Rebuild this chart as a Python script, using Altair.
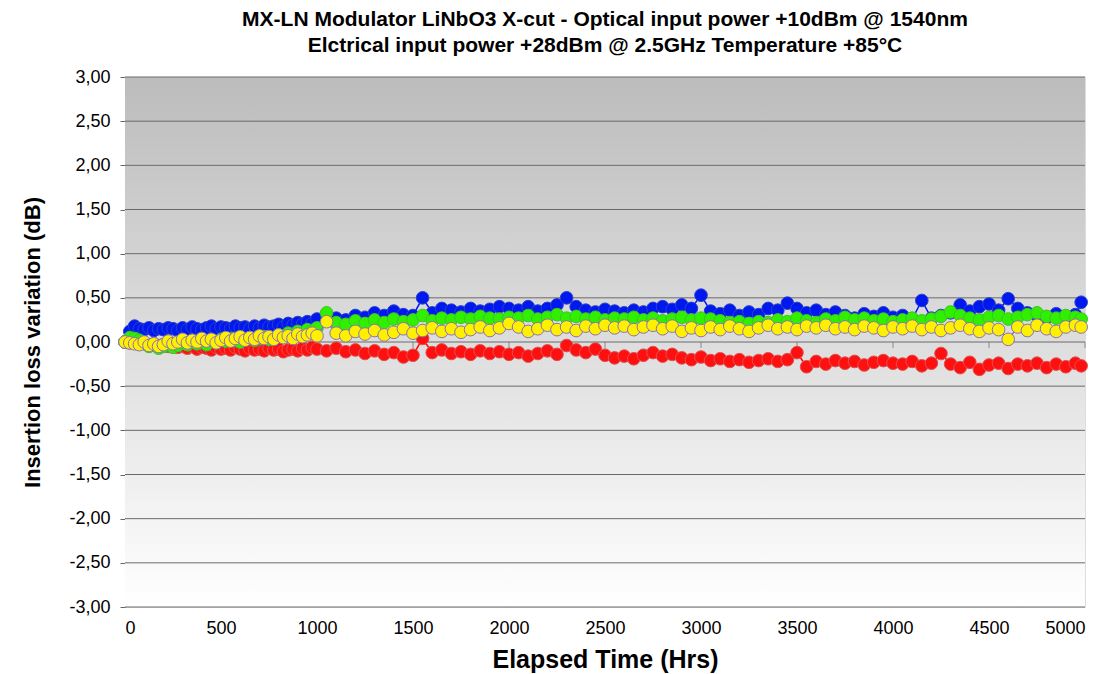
import altair as alt
import pandas as pd

hours = [0, 25, 50, 75, 100, 125, 150, 175, 200, 225, 250, 275, 300, 325, 350, 375, 400, 425, 450, 475,
         500, 525, 550, 575, 600, 625, 650, 675, 700, 725, 750, 775, 800, 825, 850, 875, 900, 925, 950, 975, 1000,
         1050, 1100, 1150, 1200, 1250, 1300, 1350, 1400, 1450, 1500, 1550, 1600, 1650, 1700, 1750, 1800, 1850, 1900, 1950, 2000,
         2050, 2100, 2150, 2200, 2250, 2300, 2350, 2400, 2450, 2500, 2550, 2600, 2650, 2700, 2750, 2800, 2850, 2900, 2950, 3000,
         3050, 3100, 3150, 3200, 3250, 3300, 3350, 3400, 3450, 3500, 3550, 3600, 3650, 3700, 3750, 3800, 3850, 3900, 3950, 4000,
         4050, 4100, 4150, 4200, 4250, 4300, 4350, 4400, 4450, 4500, 4550, 4600, 4650, 4700, 4750, 4800, 4850, 4900, 4950, 4980]

blue = [0.00, 0.12, 0.18, 0.15, 0.14, 0.16, 0.13, 0.15, 0.14, 0.16,
        0.15, 0.13, 0.16, 0.14, 0.17, 0.15, 0.14, 0.16, 0.18, 0.15,
        0.17, 0.16, 0.15, 0.18, 0.16, 0.17, 0.15, 0.18, 0.16, 0.19,
        0.17, 0.18, 0.20, 0.17, 0.21, 0.19, 0.22, 0.20, 0.23, 0.21, 0.26,
        0.30, 0.27, 0.25, 0.30, 0.28, 0.33, 0.30, 0.35, 0.31, 0.30, 0.50, 0.33, 0.38, 0.36, 0.34, 0.38, 0.35, 0.37, 0.40, 0.38,
        0.36, 0.40, 0.35, 0.38, 0.42, 0.50, 0.40, 0.36, 0.34, 0.37, 0.35, 0.33, 0.36, 0.34, 0.38, 0.40, 0.37, 0.42, 0.38, 0.53,
        0.35, 0.32, 0.36, 0.30, 0.34, 0.31, 0.38, 0.36, 0.44, 0.38, 0.33, 0.36, 0.31, 0.34, 0.30, 0.27, 0.32, 0.29, 0.33, 0.28,
        0.30, 0.26, 0.47, 0.27, 0.30, 0.33, 0.42, 0.35, 0.40, 0.43, 0.36, 0.49, 0.38, 0.33, 0.30, 0.28, 0.32, 0.29, 0.31, 0.45]

green = [0.00, 0.05, 0.04, 0.02, -0.02, -0.05, -0.03, -0.07, -0.05, -0.02,
         -0.06, -0.04, -0.01, -0.03, 0.00, -0.02, 0.01, -0.03, 0.02, 0.00,
         0.03, 0.01, 0.04, 0.02, 0.00, 0.03, 0.05, 0.02, 0.04, 0.06,
         0.03, 0.05, 0.08, 0.06, 0.10, 0.08, 0.12, 0.10, 0.14, 0.13, 0.16,
         0.33, 0.22, 0.20, 0.24, 0.21, 0.25, 0.22, 0.26, 0.23, 0.25, 0.30, 0.24, 0.27, 0.25, 0.28, 0.26, 0.29, 0.27, 0.26, 0.28,
         0.27, 0.30, 0.26, 0.28, 0.31, 0.27, 0.29, 0.26, 0.28, 0.25, 0.27, 0.26, 0.28, 0.25, 0.27, 0.24, 0.26, 0.28, 0.25, 0.27,
         0.26, 0.24, 0.22, 0.23, 0.21, 0.23, 0.22, 0.25, 0.23, 0.27, 0.24, 0.22, 0.26, 0.24, 0.28, 0.25, 0.27, 0.24, 0.26, 0.23,
         0.25, 0.27, 0.24, 0.26, 0.29, 0.34, 0.30, 0.27, 0.25, 0.28, 0.30, 0.26, 0.28, 0.31, 0.33, 0.29, 0.27, 0.30, 0.28, 0.26]

yellow = [0.00, -0.01, -0.02, -0.03, 0.00, -0.04, -0.02, -0.05, -0.03, 0.01,
          -0.02, 0.00, 0.03, -0.01, 0.02, 0.00, 0.04, 0.01, 0.03, -0.01,
          0.02, 0.05, 0.01, 0.04, 0.06, 0.02, 0.05, 0.03, 0.07, 0.04,
          0.06, 0.03, 0.08, 0.05, 0.07, 0.04, 0.09, 0.06, 0.08, 0.10, 0.07,
          0.23, 0.10, 0.07, 0.12, 0.09, 0.13, 0.08, 0.11, 0.15, 0.10, 0.13, 0.16, 0.12, 0.15, 0.11, 0.14, 0.17, 0.13, 0.16, 0.21,
          0.17, 0.12, 0.15, 0.19, 0.14, 0.17, 0.13, 0.18, 0.15, 0.19, 0.16, 0.18, 0.14, 0.17, 0.19, 0.15, 0.18, 0.12, 0.16, 0.13,
          0.17, 0.14, 0.18, 0.15, 0.12, 0.16, 0.19, 0.15, 0.17, 0.14, 0.18, 0.16, 0.19, 0.15, 0.17, 0.14, 0.18, 0.16, 0.13, 0.17,
          0.15, 0.18, 0.14, 0.17, 0.13, 0.16, 0.19, 0.15, 0.12, 0.16, 0.14, 0.03, 0.17, 0.13, 0.19, 0.15, 0.12, 0.17, 0.19, 0.17]

red = [0.00, -0.01, 0.00, -0.02, -0.01, -0.03, -0.02, -0.04, -0.03, -0.05,
       -0.04, -0.06, -0.05, -0.07, -0.05, -0.08, -0.06, -0.07, -0.09, -0.06,
       -0.08, -0.07, -0.09, -0.06, -0.08, -0.10, -0.07, -0.09, -0.08, -0.10,
       -0.07, -0.09, -0.08, -0.11, -0.09, -0.08, -0.10, -0.07, -0.09, -0.06, -0.08,
       -0.10, -0.07, -0.11, -0.09, -0.13, -0.10, -0.14, -0.12, -0.17, -0.15, 0.04, -0.12, -0.09, -0.13, -0.11, -0.14, -0.10, -0.13, -0.11, -0.14,
       -0.12, -0.16, -0.13, -0.10, -0.14, -0.04, -0.09, -0.12, -0.08, -0.15, -0.18, -0.16, -0.19, -0.15, -0.12, -0.16, -0.14, -0.18, -0.20, -0.17,
       -0.21, -0.19, -0.22, -0.20, -0.23, -0.21, -0.19, -0.22, -0.20, -0.12, -0.28, -0.22, -0.25, -0.21, -0.24, -0.22, -0.26, -0.23, -0.21, -0.24,
       -0.25, -0.22, -0.27, -0.24, -0.13, -0.25, -0.29, -0.23, -0.31, -0.26, -0.24, -0.30, -0.25, -0.27, -0.24, -0.29, -0.25, -0.28, -0.24, -0.27]

y_ticks = [-3.0, -2.5, -2.0, -1.5, -1.0, -0.5, 0.0, 0.5, 1.0, 1.5, 2.0, 2.5, 3.0]
x_ticks = [0, 500, 1000, 1500, 2000, 2500, 3000, 3500, 4000, 4500, 5000]

W, H = 960, 530
FONT = "Liberation Sans"

rows = []
for name, vals in [("red", red), ("blue", blue), ("green", green), ("yellow", yellow)]:
    for h, v in zip(hours, vals):
        rows.append({"hours": h, "value": v, "series": name})
df = pd.DataFrame(rows)

xscale = alt.Scale(domain=[0, 5000], nice=False, zero=False)
yscale = alt.Scale(domain=[-3, 3], nice=False, zero=False)

x_axis = alt.Axis(values=x_ticks, format="d", title="Elapsed Time (Hrs)", grid=False, ticks=False, domain=False,
                  labelFontSize=18, labelFont=FONT, labelColor="black", labelPadding=12,
                  titleFont=FONT, titleFontSize=25, titleFontWeight="bold", titleColor="black", titlePadding=10)
y_axis = alt.Axis(values=y_ticks, title="Insertion loss variation (dB)", grid=False, domain=False,
                  labelExpr="(datum.value < 0 ? '-' : '') + replace(format(abs(datum.value), '.2f'), '.', ',')",
                  labelFontSize=18, labelFont=FONT, labelColor="black", labelPadding=10,
                  tickSize=5, tickColor="#666666",
                  titleFont=FONT, titleFontSize=22, titleFontWeight="bold", titleColor="black", titlePadding=24)

bg = alt.Chart(pd.DataFrame({"a": [0]})).mark_rect(
    color=alt.Gradient(gradient="linear", x1=0, x2=0, y1=0, y2=1,
                       stops=[alt.GradientStop(color="#bcbcbc", offset=0),
                              alt.GradientStop(color="#ffffff", offset=1)])
).encode(x=alt.value(0), x2=alt.value(W), y=alt.value(0), y2=alt.value(H))

grid = alt.Chart(pd.DataFrame({"g": y_ticks})).mark_rule(color="#6a6a6a", strokeWidth=1).encode(
    y=alt.Y("g:Q", scale=yscale, axis=y_axis)
)

zero_ticks = alt.Chart(pd.DataFrame({"t": x_ticks})).mark_tick(
    orient="vertical", size=6, thickness=1, color="#6a6a6a", yOffset=3
).encode(x=alt.X("t:Q", scale=xscale, axis=x_axis), y=alt.datum(0))

styles = {
    "red": dict(line="#ff0000", fill="#ff1010", stroke="#e05050"),
    "blue": dict(line="#0010ff", fill="#0018f0", stroke="#2a40c8"),
    "green": dict(line="#10d000", fill="#30f000", stroke="#40c030"),
    "yellow": dict(line="#8a70b8", fill="#fff000", stroke="#8a70b8"),
}

layers = [bg, grid, zero_ticks]
for name in ["red", "blue", "green", "yellow"]:
    s = styles[name]
    layers.append(
        alt.Chart(df).transform_filter(alt.datum.series == name).mark_line(
            color=s["line"], strokeWidth=1.5,
            point=alt.OverlayMarkDef(filled=True, size=160, fill=s["fill"], stroke=s["stroke"],
                                     strokeWidth=1, opacity=1)
        ).encode(
            x=alt.X("hours:Q", scale=xscale, axis=x_axis),
            y=alt.Y("value:Q", scale=yscale, axis=y_axis),
            order=alt.Order("hours:Q"),
        )
    )

chart = alt.layer(*layers).properties(
    width=W, height=H,
    padding={"left": 13, "top": 1, "right": 5, "bottom": 2},
    title=alt.TitleParams(
        text=["MX-LN Modulator LiNbO3 X-cut - Optical input power +10dBm @ 1540nm",
              "Elctrical input power +28dBm @ 2.5GHz Temperature +85°C"],
        font=FONT, fontSize=21, fontWeight="bold", lineHeight=26, color="black",
        anchor="middle", offset=12),
).configure_view(stroke="black", strokeWidth=3).configure(background="white")

chart.save("out.html", embed_options={"renderer": "svg", "actions": False})
